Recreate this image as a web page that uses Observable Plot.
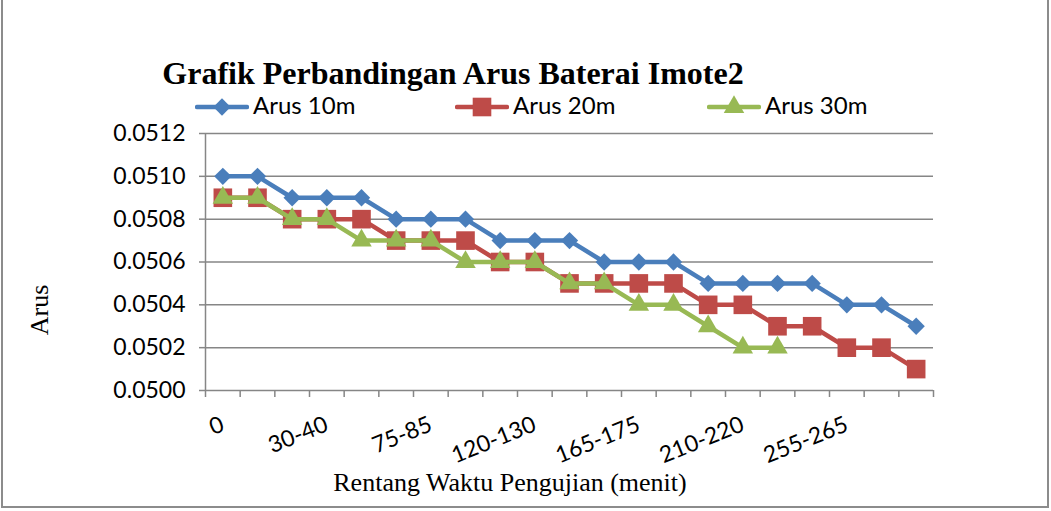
<!DOCTYPE html>
<html><head><meta charset="utf-8">
<script src="https://cdn.jsdelivr.net/npm/d3@7"></script>
<script src="https://cdn.jsdelivr.net/npm/@observablehq/plot@0.6"></script>
<style>
body{margin:0;background:#fff}
#wrap{position:relative;width:1051px;height:511px;overflow:hidden;background:#fff}
#frame{position:absolute;left:1px;top:-6px;width:1048px;height:514px;border:2px solid #8c8c8c;box-sizing:border-box}
#chart{position:absolute;left:0;top:0}
.title{position:absolute;left:153px;width:600px;text-align:center;top:57px;font:bold 32px/32px "Liberation Serif",serif;color:#000;white-space:nowrap}
.xtitle{position:absolute;left:210px;width:600px;text-align:center;top:470px;font:26px/26px "Liberation Serif",serif;color:#000;white-space:nowrap}
.ytitle{position:absolute;left:10px;width:60px;top:297px;text-align:center;font:26px/26px "Liberation Serif",serif;transform:rotate(-90deg);color:#000}
.leg{position:absolute;top:93px;font:24px/24px Lato,sans-serif;color:#000;display:flex;align-items:flex-start;white-space:nowrap}
.leg svg{margin-right:4px}
</style></head>
<body>
<div id="wrap">
  <div id="frame"></div>
  <div id="chart"></div>
  <div class="title">Grafik Perbandingan Arus Baterai Imote2</div>
  <div class="ytitle">Arus</div>
  <div class="xtitle">Rentang Waktu Pengujian (menit)</div>
  <div id="legend"></div>
</div>
<script>
const categories = ["0","0-10","15-25","30-40","45-55","60-70","75-85","90-100","105-115","120-130","135-145","150-160","165-175","180-190","195-205","210-220","225-235","240-250","255-265","270-280","285-295"];
const arus10 = [0.0510,0.0510,0.0509,0.0509,0.0509,0.0508,0.0508,0.0508,0.0507,0.0507,0.0507,0.0506,0.0506,0.0506,0.0505,0.0505,0.0505,0.0505,0.0504,0.0504,0.0503];
const arus20 = [0.0509,0.0509,0.0508,0.0508,0.0508,0.0507,0.0507,0.0507,0.0506,0.0506,0.0505,0.0505,0.0505,0.0505,0.0504,0.0504,0.0503,0.0503,0.0502,0.0502,0.0501];
const arus30 = [0.0509,0.0509,0.0508,0.0508,0.0507,0.0507,0.0507,0.0506,0.0506,0.0506,0.0505,0.0505,0.0504,0.0504,0.0503,0.0502,0.0502];
const seriesNames = ["Arus 10m","Arus 20m","Arus 30m"];
const yTicks = [0.0500,0.0502,0.0504,0.0506,0.0508,0.0510,0.0512];
const labelIdx = [0,3,6,9,12,15,18];

const colors = ["#4A7EBB","#BE4B48","#98B954"];
const symbols = ["diamond2","square","triangle"];
const radii = [7.8,10.5,7.6];
const allSeries = [arus10, arus20, arus30];
const rows = arr => arr.map((v,i)=>({i, v}));
const boundaries = d3.range(categories.length + 1).map(k => k - 0.5);
const grid = "#868686";

const marks = [
  Plot.gridY(yTicks, {stroke:grid, strokeOpacity:1, strokeWidth:1.5}),
  Plot.ruleX([-0.5], {stroke:grid, strokeWidth:1.5}),
  Plot.axisY(yTicks, {tickSize:6, tickPadding:14, fontSize:23, tickFormat:d=>d.toFixed(4), stroke:grid, strokeWidth:1.5, label:null}),
  Plot.axisX(boundaries, {tickSize:7, tickFormat:()=>"", stroke:grid, strokeWidth:1.5, label:null}),
  Plot.axisX(labelIdx, {tickSize:0, tickPadding:33, dx:0, fontSize:23, tickRotate:-22, tickFormat:i=>categories[i], label:null})
];
allSeries.forEach((arr, k) => {
  marks.push(Plot.line(rows(arr), {x:"i", y:"v", stroke:colors[k], strokeWidth:4.5}));
  marks.push(Plot.dot(rows(arr), {x:"i", y:"v", symbol:symbols[k], r:radii[k], fill:colors[k], stroke:"none"}));
});

const chart = Plot.plot({
  width:1051, height:511,
  marginLeft:205, marginRight:118, marginTop:133, marginBottom:121,
  style:{fontFamily:"Lato, sans-serif", fontSize:"23px", color:"#000", background:"transparent", overflow:"visible"},
  x:{type:"linear", domain:[-0.5, categories.length - 0.5]},
  y:{domain:[0.0500, 0.0512]},
  marks
});
document.getElementById("chart").appendChild(chart);

// legend
const legendX = [195, 455, 707];
const legend = d3.select("#legend");
seriesNames.forEach((name, k) => {
  const item = legend.append("div").attr("class","leg").style("left", legendX[k] + "px");
  const svg = item.append("svg").attr("width",54).attr("height",28);
  svg.append("line").attr("x1",2).attr("x2",52).attr("y1",14).attr("y2",14)
    .attr("stroke",colors[k]).attr("stroke-width",4.5).attr("stroke-linecap","round");
  const sym = {diamond2:d3.symbolDiamond2, square:d3.symbolSquare, triangle:d3.symbolTriangle}[symbols[k]];
  svg.append("path").attr("transform","translate(27,14)")
    .attr("d", d3.symbol(sym, Math.PI*radii[k]*radii[k])())
    .attr("fill",colors[k]);
  item.append("span").text(name);
});
</script>
</body></html>
